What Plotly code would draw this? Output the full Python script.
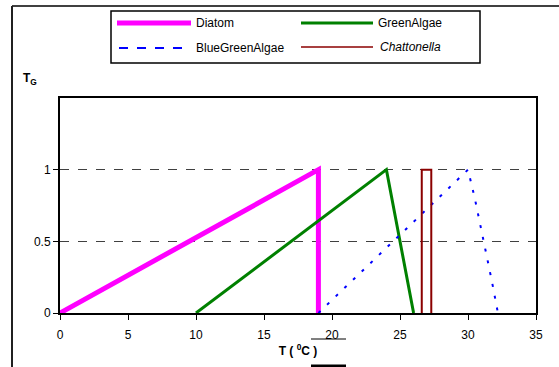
import plotly.graph_objects as go

# Data
diatom_x = [0, 19, 19]
diatom_y = [0, 1, 0]
green_x = [10, 24, 26]
green_y = [0, 1, 0]
bluegreen_x = [19, 30, 30.5, 31, 31.5, 31.8, 32.2]
bluegreen_y = [0, 1, 0.8, 0.58, 0.34, 0.2, 0]
chat_x = [26.6, 26.6, 27.3, 27.3]
chat_y = [0, 1, 1, 0]
x_ticks = [0, 5, 10, 15, 20, 25, 30, 35]
y_ticks = [0, 0.5, 1]

FONT = "Liberation Sans, Arial, sans-serif"

fig = go.Figure()
fig.add_trace(go.Scatter(x=diatom_x, y=diatom_y, mode="lines", name="Diatom",
                         line=dict(color="#FF00FF", width=5), showlegend=False))
fig.add_trace(go.Scatter(x=green_x, y=green_y, mode="lines", name="GreenAlgae",
                         line=dict(color="#008000", width=3), showlegend=False))
fig.add_trace(go.Scatter(x=bluegreen_x, y=bluegreen_y, mode="lines", name="BlueGreenAlgae",
                         line=dict(color="#0000FF", width=2, dash="3px,9px"), showlegend=False))
fig.add_trace(go.Scatter(x=chat_x, y=chat_y, mode="lines", name="Chattonella",
                         line=dict(color="#8B0000", width=2), showlegend=False))

L, R, T, B = 60, 23, 98, 54
W, H = 559, 367
pw, ph = W - L - R, H - T - B

def px(x):
    return (x - L) / pw

def py(y):
    return (H - B - y) / ph

shapes = []
annotations = []
# outer chart border (extends beyond the view at right/bottom)
shapes.append(dict(type="line", xref="paper", yref="paper", x0=px(12), x1=px(600), y0=py(6), y1=py(6),
                   line=dict(color="#404040", width=2)))
shapes.append(dict(type="line", xref="paper", yref="paper", x0=px(12), x1=px(12), y0=py(6), y1=py(400),
                   line=dict(color="#202020", width=2)))
# legend box
shapes.append(dict(type="rect", xref="paper", yref="paper", x0=px(111), x1=px(480), y0=py(63), y1=py(11),
                   line=dict(color="black", width=1.5), fillcolor="white"))
legend_items = [
    ("Diatom", "#FF00FF", 5, "solid", 117, 191, 194, 23),
    ("GreenAlgae", "#008000", 3, "solid", 301, 373, 376, 23),
    ("BlueGreenAlgae", "#0000FF", 2, "dash", 119, 191, 194, 48),
    ("<i>Chattonella</i>", "#8B0000", 1.5, "solid", 301, 373, 378, 47),
]
for name, col, w, dash, x0, x1, tx, yy in legend_items:
    shapes.append(dict(type="line", xref="paper", yref="paper", x0=px(x0), x1=px(x1), y0=py(yy), y1=py(yy),
                       line=dict(color=col, width=w, dash=dash)))
    annotations.append(dict(x=px(tx), y=py(yy), xref="paper", yref="paper", text=name, showarrow=False,
                            xanchor="left", yanchor="middle", font=dict(family=FONT, size=12, color="black")))
# stray underline artifacts around x-axis title
shapes.append(dict(type="line", xref="paper", yref="paper", x0=px(311), x1=px(346), y0=py(339), y1=py(339),
                   line=dict(color="black", width=1)))
shapes.append(dict(type="line", xref="paper", yref="paper", x0=px(311), x1=px(346), y0=py(366), y1=py(366),
                   line=dict(color="black", width=3)))
# y-axis title
annotations.append(dict(x=px(21), y=py(79), xref="paper", yref="paper", text="<b>T<sub>G</sub></b>",
                        showarrow=False, xanchor="left", yanchor="middle",
                        font=dict(family=FONT, size=12, color="black")))

fig.update_layout(
    width=W, height=H,
    margin=dict(l=L, r=R, t=T, b=B),
    paper_bgcolor="white", plot_bgcolor="white",
    font=dict(family=FONT, size=12, color="black"),
    shapes=shapes, annotations=annotations,
    showlegend=False,
)
fig.update_xaxes(range=[0, 35], tickvals=x_ticks, ticks="outside", ticklen=5, tickcolor="black",
                 ticklabelstandoff=5,
                 showline=True, linecolor="black", linewidth=2, mirror=True,
                 showgrid=False, zeroline=False,
                 title=dict(text="<b>T ( <sup>0</sup>C )</b>", font=dict(family=FONT, size=12), standoff=5))
fig.update_yaxes(range=[0, 1.5], tickvals=y_ticks, ticktext=["0", "0.5", "1"], ticks="outside", ticklen=5,
                 tickcolor="black", showline=True, linecolor="black", linewidth=2, mirror=True,
                 showgrid=True, gridcolor="#404040", griddash="dash", gridwidth=1, zeroline=False)

fig.write_html("out.html")
